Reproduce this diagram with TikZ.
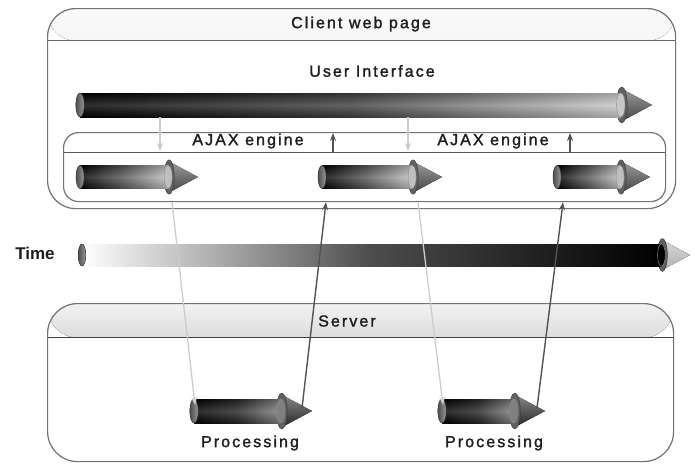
\documentclass[tikz,border=0pt]{standalone}
\usepackage{fontspec}
\setmainfont{Liberation Sans}
\newfontfamily\labelfont{Liberation Sans}[LetterSpace=13, FakeBold=1.6]
\usetikzlibrary{arrows.meta,calc}

% strength of the rounded-tube darkening along the edges
\def\tbtube{0.18}

% 3D tube arrow: name, tail x, tip x, axis y, radius,
% left colour, right colour, cone colour, middle colour
\newcommand\tubearrow[9]{%
  \pgfmathsetmacro\tbF{#3-2.6*#5}%
  \pgfmathsetmacro\tbR{#5}%
  \colorlet{tbcone}{#8}%
  % cone
  \fill[top color=tbcone!55!white, bottom color=tbcone]
    (\tbF+2,#4-1.3*\tbR) -- (#3,#4) -- (\tbF+2,#4+1.3*\tbR) -- cycle;
  % flange ring
  \fill[black!62, draw=black!80, line width=0.4pt]
    (\tbF+1,#4) ellipse [x radius=0.45*\tbR pt, y radius=1.5*\tbR pt];
  % tube body
  \shade[left color=#6, right color=#7, middle color=#9]
    (#2,#4-\tbR) rectangle (\tbF,#4+\tbR);
  \shade[top color=black, bottom color=black, middle color=white, opacity=\tbtube]
    (#2,#4-\tbR) rectangle (\tbF,#4+\tbR);
  % end face at the flange
  \fill[#7, draw=black!45, line width=0.4pt]
    (\tbF,#4) ellipse [x radius=0.35*\tbR pt, y radius=\tbR pt];
  % tail cap
  \fill[left color=black!70, right color=black!40, draw=black!75, line width=0.4pt]
    (#2,#4) ellipse [x radius=0.35*\tbR pt, y radius=\tbR pt];
  \node[inner sep=0pt, outer sep=0pt, minimum width={(#3-#2)*1pt},
        minimum height={2*#5*1pt}, anchor=west] (#1) at (#2,#4) {};
}

\begin{document}
\begin{tikzpicture}[x=1pt, y=-1pt,
  lbl/.style={font=\labelfont\fontsize{16}{19}\selectfont, text=black!88, inner sep=0pt},
  panel/.style={draw=black!55, line width=1.2pt, inner sep=0pt},
  req/.style={draw=black!20, line width=1.3pt, -{Stealth[length=8pt,width=6pt]}},
  resp/.style={draw=black!68, line width=1.4pt, -{Stealth[length=8pt,width=6pt]}}]
\useasboundingbox (0,0) rectangle (695,463);
\fill[white] (0,0) rectangle (695,463);

% client web page frame
\node[panel, rounded corners=28pt, minimum width=628pt, minimum height=200pt,
  anchor=north west,
  path picture={
    \fill[top color=black!2, bottom color=black!12]
      (path picture bounding box.north west) rectangle
      ([yshift=-32pt]path picture bounding box.north east);
    \draw[black!60, line width=1pt]
      ([yshift=-32pt]path picture bounding box.north west) --
      ([yshift=-32pt]path picture bounding box.north east);}] (client) at (47,8) {};

% AJAX engine frame
\node[panel, rounded corners=15pt, minimum width=602pt, minimum height=69pt,
  anchor=north west,
  path picture={
    \draw[black!65, line width=1pt]
      ([yshift=-20pt]path picture bounding box.north west) --
      ([yshift=-20pt]path picture bounding box.north east);}] (eng) at (63,132) {};

% server frame
\node[panel, rounded corners=30pt, minimum width=626pt, minimum height=158pt,
  anchor=north west,
  path picture={
    \fill[top color=black!5, bottom color=black!45]
      (path picture bounding box.north west) rectangle
      ([yshift=-34pt]path picture bounding box.north east);
    \draw[black!75, line width=1.4pt]
      ([yshift=-34pt]path picture bounding box.north west) --
      ([yshift=-34pt]path picture bounding box.north east);}] (server) at (47,303) {};

% tube arrows
\tubearrow{ui}{80}{652}{105}{12}{black}{black!22}{black!72}{black!75}
\tubearrow{a1}{80}{198}{177}{11.5}{black}{black!25}{black!72}{black!65}
\tubearrow{a2}{322}{442}{177}{11.5}{black}{black!25}{black!72}{black!65}
\tubearrow{a3}{557}{650}{177}{11.5}{black}{black!25}{black!72}{black!65}
\tubearrow{p1}{194}{312}{411}{12}{black}{black!50}{black!85}{black!85}
\tubearrow{p2}{442}{545}{411}{12}{black}{black!50}{black!85}{black!85}
% the time axis fades in from white, so no edge darkening there
\def\tbtube{0}
\tubearrow{tm}{82}{690}{255}{11}{white}{black}{black!30}{black!70}

% labels
\node[lbl] (tclient) at (361,24) {Client web page};
\node[lbl] (tui) at (372,71) {User Interface};
\node[lbl] (teng1) at (248,141) {AJAX engine};
\node[lbl] (teng2) at (493,141) {AJAX engine};
\node[lbl, font=\bfseries\fontsize{17}{20}\selectfont] (ttime) at (35,253) {Time};
\node[lbl] (tserver) at (347,321) {Server};
\node[lbl] (tproc1) at (250,443) {Processing};
\node[lbl] (tproc2) at (494,443) {Processing};

% user interface <-> AJAX engine
\draw[req]  ($(ui.south west)+(80,0)$)  -- ($(eng.north west)+(97,19)$);
\draw[resp] ($(eng.north west)+(270,20)$) -- ($(eng.north west)+(270,1)$);
\draw[req]  ($(ui.south west)+(328,0)$) -- ($(eng.north west)+(345,19)$);
\draw[resp] ($(eng.north west)+(507,20)$) -- ($(eng.north west)+(507,1)$);

% AJAX engine <-> server
\draw[req]  ($(eng.south west)+(109,0)$) -- ($(p1.west)+(1,-6)$);
\draw[resp] ($(p1.east)+(-10,-3)$) -- ($(eng.south west)+(263,0)$);
\draw[req]  ($(eng.south west)+(355,0)$) -- ($(p2.west)+(1,-6)$);
\draw[resp] ($(p2.east)+(-8,-3)$) -- ($(eng.south west)+(500,0)$);
\end{tikzpicture}
\end{document}
